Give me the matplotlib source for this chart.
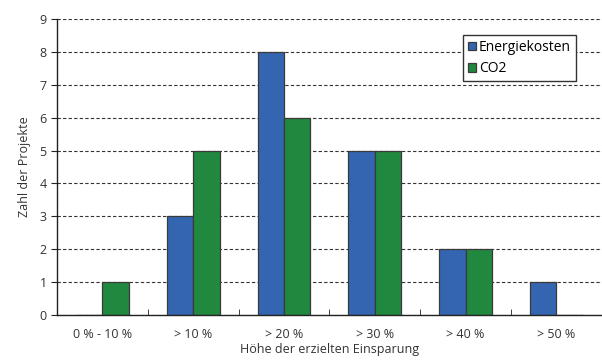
import matplotlib
matplotlib.use("Agg")
import matplotlib.pyplot as plt
import numpy as np

plt.rcParams['font.family'] = ['Open Sans', 'DejaVu Sans']

categories = ["0 % - 10 %", "> 10 %", "> 20 %", "> 30 %", "> 40 %", "> 50 %"]
energiekosten = [0, 3, 8, 5, 2, 1]
co2 = [1, 5, 6, 5, 2, 0]

blue = "#3465b0"
green = "#21893f"
edge = "#3a3a3a"

fig = plt.figure(figsize=(6.02, 3.6), dpi=100)
ax = fig.add_axes([0.0947, 0.125, 0.905, 0.822])

x = np.arange(len(categories))
w = 0.29
ax.bar(x - w / 2, energiekosten, w, color=blue, edgecolor=edge, linewidth=0.9,
       label="Energiekosten", zorder=3)
ax.bar(x + w / 2, co2, w, color=green, edgecolor=edge, linewidth=0.9,
       label="CO2", zorder=3)

ax.set_xlim(-0.5, len(categories) - 0.5)
ax.set_ylim(0, 9)
ax.set_yticks(range(0, 10))
ax.set_xticks(x)
ax.set_xticklabels(categories)
ax.set_xticks(np.arange(-0.5, len(categories) - 0.5, 1), minor=True)
ax.tick_params(axis='x', which='major', length=0, pad=9, labelsize=9, colors="#333333")
ax.tick_params(axis='x', which='minor', length=4, direction='in', color="#222222")
ax.tick_params(axis='y', length=4, direction='out', labelsize=9, colors="#333333",
               color="#222222")

ax.grid(axis='y', linestyle=(0, (3, 2)), color="#333333", linewidth=0.8, zorder=0)
for s in ("top", "right"):
    ax.spines[s].set_visible(False)
for s in ("left", "bottom"):
    ax.spines[s].set_color("#222222")
    ax.spines[s].set_linewidth(1.0)
    ax.spines[s].set_zorder(4)

ax.set_ylabel("Zahl der Projekte", fontsize=9, color="#333333", labelpad=6)
ax.set_xlabel("Höhe der erzielten Einsparung", fontsize=9, color="#333333", labelpad=2)

leg = ax.legend(loc="upper left", bbox_to_anchor=(0.745, 0.946), borderaxespad=0,
                fontsize=10, frameon=True, fancybox=False, edgecolor="#333333",
                handlelength=0.6, handleheight=0.6, handletextpad=0.2,
                borderpad=0.35, labelspacing=0.45)
leg.get_frame().set_linewidth(1.0)
leg.get_frame().set_alpha(1)

fig.savefig("out.png", dpi=100)
